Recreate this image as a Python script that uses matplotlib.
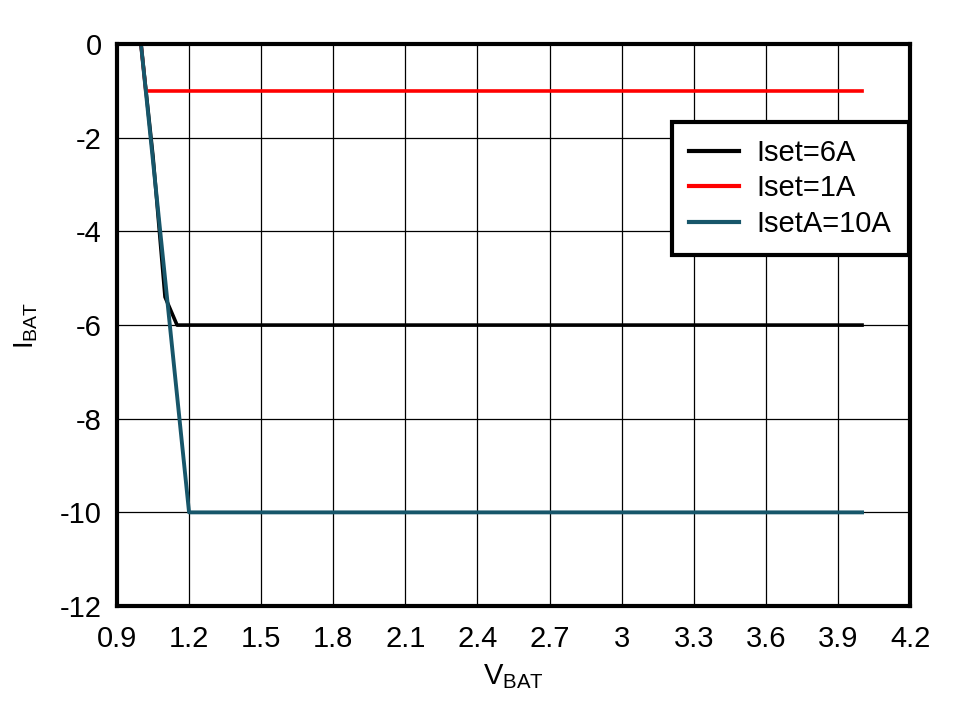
import matplotlib.pyplot as plt
import numpy as np

plt.rcParams['font.family'] = ['Liberation Sans', 'DejaVu Sans']
plt.rcParams['axes.unicode_minus'] = False

# data
v_6a = [1.0, 1.05, 1.1, 1.15, 4.0]
i_6a = [0.0, -2.4, -5.4, -6.0, -6.0]

v_1a = [1.0, 1.02, 4.0]
i_1a = [0.0, -1.0, -1.0]

v_10a = [1.0, 1.2, 4.0]
i_10a = [0.0, -10.0, -10.0]

x_ticks = [0.9, 1.2, 1.5, 1.8, 2.1, 2.4, 2.7, 3.0, 3.3, 3.6, 3.9, 4.2]
x_labels = ["0.9", "1.2", "1.5", "1.8", "2.1", "2.4", "2.7", "3", "3.3", "3.6", "3.9", "4.2"]
y_ticks = [0, -2, -4, -6, -8, -10, -12]

fig = plt.figure(figsize=(9.54, 7.01), dpi=100)
ax = fig.add_axes([0.1226, 0.1355, 0.8314, 0.8015])

ax.plot(v_6a, i_6a, color="black", linewidth=2.6, label="Iset=6A")
ax.plot(v_1a, i_1a, color="#ff0000", linewidth=2.6, label="Iset=1A")
ax.plot(v_10a, i_10a, color="#17566a", linewidth=2.8, label="IsetA=10A")

ax.set_xlim(0.9, 4.2)
ax.set_ylim(-12, 0)
ax.set_xticks(x_ticks)
ax.set_xticklabels(x_labels)
ax.set_yticks(y_ticks)
ax.tick_params(length=0, labelsize=21)
ax.tick_params(axis="x", pad=14)
ax.tick_params(axis="y", pad=11)
ax.grid(True, color="black", linewidth=0.9)

for s in ax.spines.values():
    s.set_linewidth(3)

ax.set_xlabel(r"V$_{\mathregular{BAT}}$", fontsize=21, labelpad=6)
ax.set_ylabel(r"I$_{\mathregular{BAT}}$", fontsize=20, labelpad=14)

leg = ax.legend(loc="upper right", bbox_to_anchor=(0.998, 0.862), borderaxespad=0,
                fontsize=21, fancybox=False, framealpha=1, edgecolor="black",
                handlelength=1.7, handletextpad=0.6, borderpad=0.6, labelspacing=0.25)
leg.get_frame().set_linewidth(3)
for h in leg.get_lines():
    h.set_linewidth(3)

fig.savefig("out.png", dpi=100)
